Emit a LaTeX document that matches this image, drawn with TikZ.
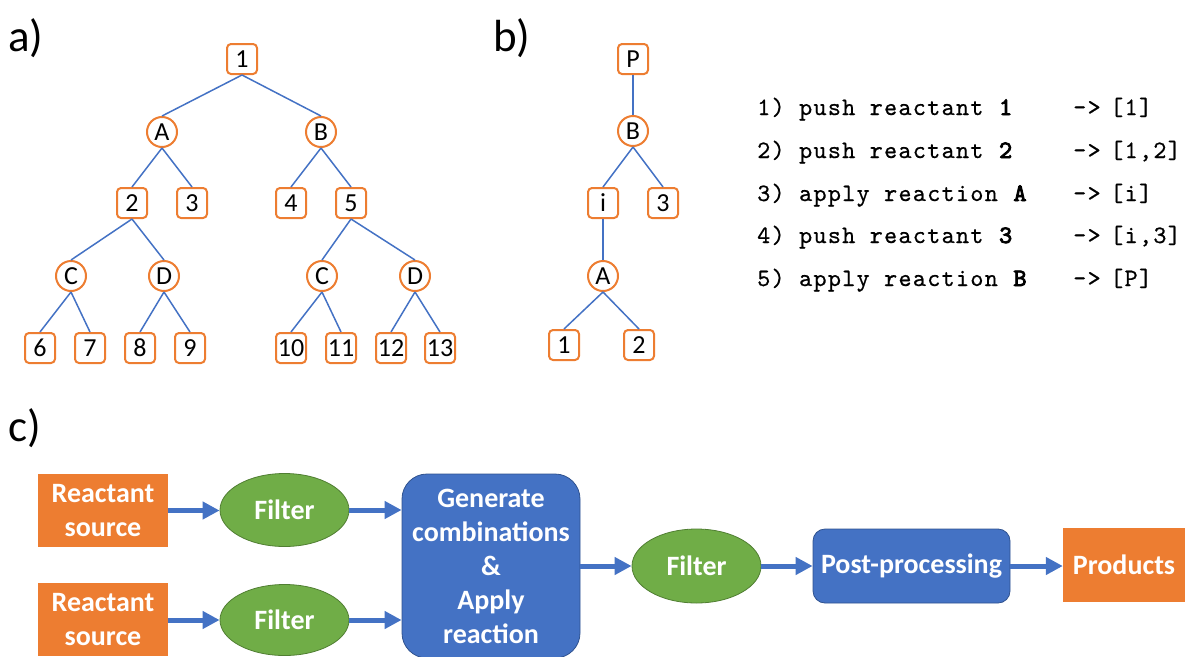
\documentclass[tikz,border=0pt]{standalone}
\usepackage{fontspec}
\setmainfont{Carlito}
\setmonofont{lmmono10-regular}[Extension=.otf, LetterSpace=5,
  UprightFeatures={FakeBold=0.6},
  BoldFont=lmmono10-regular, BoldFeatures={FakeBold=3.5}]
\usetikzlibrary{arrows.meta,shapes.geometric}
\definecolor{orng}{HTML}{ED7D31}
\definecolor{blu}{HTML}{4472C4}
\definecolor{bluedge}{HTML}{2F528F}
\definecolor{grn}{HTML}{70AD47}
\definecolor{grnedge}{HTML}{507E32}
\begin{document}
\begin{tikzpicture}[x=1pt,y=-1pt,
  treefont/.style={font=\fontsize{26}{30}\selectfont},
  sq/.style={draw=orng, line width=2pt, rounded corners=4pt, fill=white,
    minimum width=30pt, minimum height=30pt, inner sep=0pt, treefont},
  rn/.style={draw=orng, line width=2pt, circle, fill=white,
    minimum size=30pt, inner sep=0pt, treefont},
  edge/.style={draw=blu, line width=1.5pt},
  panel/.style={anchor=west, inner sep=0pt, font=\fontsize{45}{50}\selectfont},
  code/.style={anchor=base west, inner sep=0pt, font=\ttfamily\fontsize{25}{28}\selectfont},
  boxtext/.style={text=white, align=center, inner sep=0pt,
    font=\bfseries\fontsize{28}{34}\selectfont},
  src/.style={boxtext, fill=orng, rectangle},
  filt/.style={boxtext, ellipse, fill=grn, draw=grnedge, line width=0.8pt,
    minimum width=129pt},
  proc/.style={boxtext, rectangle, fill=blu, draw=bluedge, line width=0.8pt},
  flow/.style={draw=blu, line width=5pt, -{Triangle[length=17pt,width=17pt]}}
]
\useasboundingbox (0,0) rectangle (1185,656);

% panel labels
\node[panel] (la) at (8,38) {a)};
\node[panel] (lb) at (493,38) {b)};
\node[panel] (lc) at (8,428) {c)};

% ---- a) full synthesis tree ----
\node[sq] (a1) at (242,59) {1};
\node[rn] (aA) at (162,132) {A};
\node[rn] (aB) at (321,132) {B};
\node[sq] (a2) at (132,203) {2};
\node[sq] (a3) at (192,203) {3};
\node[sq] (a4) at (291,203) {4};
\node[sq] (a5) at (351,203) {5};
\node[rn] (aC1) at (71,276) {C};
\node[rn] (aD1) at (164,276) {D};
\node[rn] (aC2) at (322,276) {C};
\node[rn] (aD2) at (415,276) {D};
\node[sq] (a6) at (40,348) {6};
\node[sq] (a7) at (90,348) {7};
\node[sq] (a8) at (140,348) {8};
\node[sq] (a9) at (190,348) {9};
\node[sq] (a10) at (291,348) {10};
\node[sq] (a11) at (341,348) {11};
\node[sq] (a12) at (391,348) {12};
\node[sq] (a13) at (440,348) {13};

\foreach \p/\c in {a1/aA, a1/aB, aA/a2, aA/a3, aB/a4, aB/a5,
                   a2/aC1, a2/aD1, a5/aC2, a5/aD2,
                   aC1/a6, aC1/a7, aD1/a8, aD1/a9,
                   aC2/a10, aC2/a11, aD2/a12, aD2/a13}
  \draw[edge] (\p.south) -- (\c.north);

% ---- b) single route tree ----
\node[sq] (bP) at (633,59) {P};
\node[rn] (bB) at (633,131) {B};
\node[sq] (bi) at (603,203) {i};
\node[sq] (b3) at (663,203) {3};
\node[rn] (bA) at (603,276) {A};
\node[sq] (b1) at (564,345) {1};
\node[sq] (b2) at (639,345) {2};

\foreach \p/\c in {bP/bB, bB/bi, bB/b3, bi/bA, bA/b1, bA/b2}
  \draw[edge] (\p.south) -- (\c.north);

% stack operations
\node[code] (s1) at (757,115) {1) push reactant \textbf{1}};
\node[code] (s2) at (757,158) {2) push reactant \textbf{2}};
\node[code] (s3) at (757,201) {3) apply reaction \textbf{A}};
\node[code] (s4) at (757,243) {4) push reactant \textbf{3}};
\node[code] (s5) at (757,286) {5) apply reaction \textbf{B}};
\foreach \k/\y/\r in {1/115/{[1]}, 2/158/{[1,2]}, 3/201/{[i]}, 4/243/{[i,3]}, 5/286/{[P]}} {
  \node[code] (ar\k) at (1073,\y) {->};
  \node[code] (st\k) at (1110,\y) {\r};
}

% ---- c) enumeration pipeline ----
\node[src, minimum width=130pt, minimum height=73pt] (rs1) at (103,510.5) {Reactant\\source};
\node[src, minimum width=130pt, minimum height=73pt] (rs2) at (103,619.5) {Reactant\\source};
\node[filt, minimum height=73pt] (f1) at (284.5,510) {Filter};
\node[filt, minimum height=71pt] (f2) at (284.5,620) {Filter};
\node[proc, rounded corners=25pt, minimum width=178pt, minimum height=184pt] (gen) at (491,566)
  {Generate\\combinations\\\&\\Apply\\reaction};
\node[filt, minimum height=74pt] (f3) at (696.5,566) {Filter};
\node[proc, rounded corners=12pt, minimum width=197pt, minimum height=74pt] (post) at (911.5,566) {Post-processing};
\node[src, minimum width=122pt, minimum height=74pt] (prod) at (1124,565) {Products};

\draw[flow] (rs1.east) -- (rs1.east -| f1.west);
\draw[flow] (rs2.east |- f2.west) -- (f2.west);
\draw[flow] (f1.east) -- (f1.east -| gen.west);
\draw[flow] (f2.east) -- (f2.east -| gen.west);
\draw[flow] (gen.east) -- (f3.west);
\draw[flow] (f3.east) -- (post.west);
\draw[flow] (post.east) -- (post.east -| prod.west);
\end{tikzpicture}
\end{document}
